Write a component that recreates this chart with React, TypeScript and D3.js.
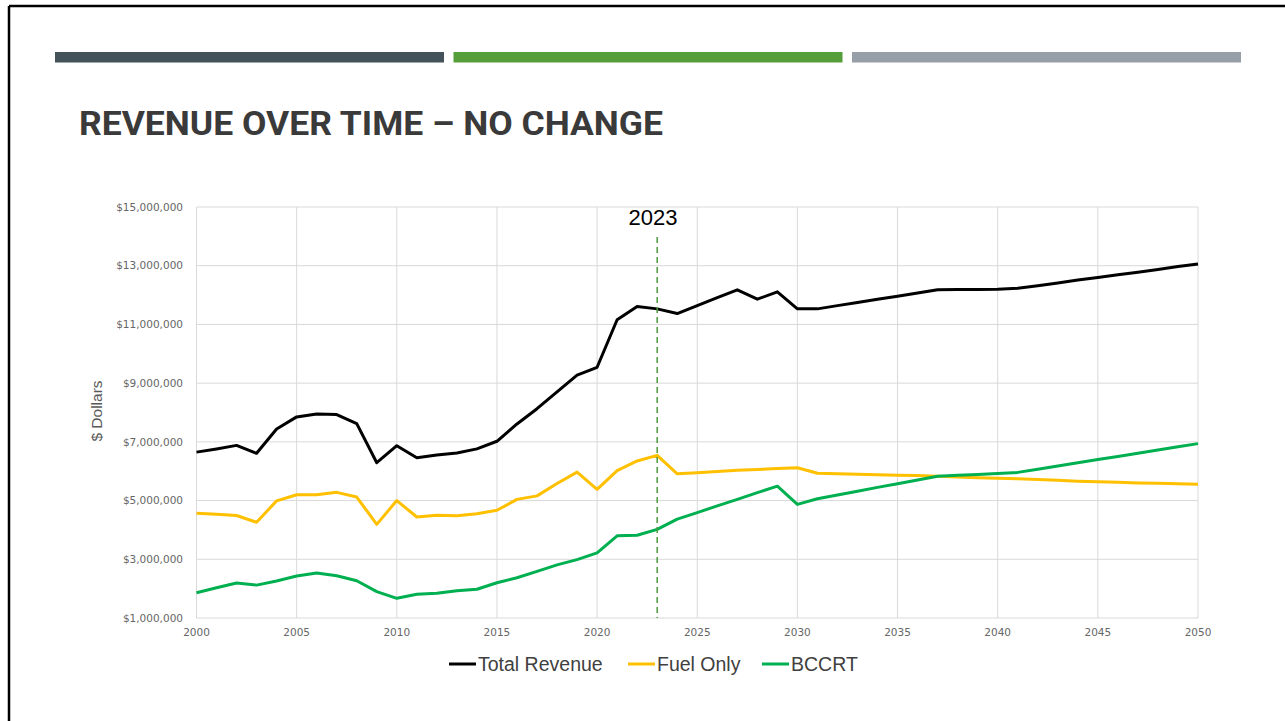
import React from "react";
import * as d3 from "d3";

const width = 1285;
const height = 721;
const margin = { left: 196.5, right: 87, top: 207, bottom: 103 };

// values in millions of dollars, one per year 2000-2050
const years = d3.range(2000, 2051);
const totalRevenue = [
  6.65, 6.76, 6.88, 6.61, 7.44, 7.85, 7.95, 7.93, 7.62, 6.29,
  6.87, 6.46, 6.55, 6.62, 6.76, 7.02, 7.61, 8.13, 8.7, 9.27,
  9.54, 11.16, 11.61, 11.53, 11.37, 11.64, 11.91, 12.18, 11.86, 12.11,
  11.53, 11.53, 11.64, 11.75, 11.86, 11.96, 12.07, 12.18, 12.19, 12.19,
  12.2, 12.23, 12.32, 12.41, 12.51, 12.6, 12.69, 12.78, 12.87, 12.97,
  13.06,
];
const fuelOnly = [
  4.57, 4.53, 4.49, 4.26, 4.99, 5.2, 5.2, 5.28, 5.12, 4.19,
  5.0, 4.44, 4.5, 4.48, 4.55, 4.67, 5.04, 5.16, 5.58, 5.97,
  5.38, 6.02, 6.35, 6.54, 5.91, 5.95, 5.99, 6.03, 6.06, 6.09,
  6.12, 5.93, 5.91, 5.9, 5.88, 5.86, 5.85, 5.83, 5.8, 5.78,
  5.76, 5.74, 5.72, 5.69, 5.66, 5.64, 5.62, 5.6, 5.59, 5.57,
  5.56,
];
const bccrt = [
  1.86, 2.03, 2.19, 2.12, 2.26, 2.43, 2.53, 2.44, 2.27, 1.9,
  1.67, 1.81, 1.84, 1.93, 1.98, 2.2, 2.37, 2.59, 2.81, 2.99,
  3.22, 3.8, 3.82, 4.02, 4.37, 4.59, 4.82, 5.04, 5.27, 5.49,
  4.87, 5.06, 5.19, 5.32, 5.45, 5.57, 5.7, 5.83, 5.86, 5.89,
  5.92, 5.96, 6.07, 6.18, 6.29, 6.4, 6.5, 6.61, 6.72, 6.83,
  6.94,
];

const seriesNames = ["Total Revenue", "Fuel Only", "BCCRT"];
const seriesColors = ["#000000", "#ffc000", "#00b050"];
const seriesValues = [totalRevenue, fuelOnly, bccrt];

const yTicks = [1, 3, 5, 7, 9, 11, 13, 15];
const xTicks = d3.range(2000, 2051, 5);
const markerYear = 2023;

const barColors = ["#44525a", "#559e3a", "#969ea8"];

const x = d3.scaleLinear().domain([2000, 2050]).range([margin.left, width - margin.right]);
const y = d3.scaleLinear().domain([1, 15]).range([height - margin.bottom, margin.top]);

const line = d3
  .line<number>()
  .x((d, i) => x(years[i]))
  .y((d) => y(d));

const money = d3.format("$,");

const sans = "'Liberation Sans', Arial, sans-serif";
const tickFont = "'DejaVu Sans', Verdana, sans-serif";

export default function App() {
  const barW = 389;
  const barGap = 9.5;
  const legendX = [449, 628, 762];

  return (
    <div style={{ position: "absolute", left: 0, top: 0 }}>
      <svg width={width} height={height} style={{ display: "block", background: "#fff" }}>
        {/* slide frame */}
        <line x1={9} y1={6} x2={width} y2={6} stroke="#000" strokeWidth={2.5} />
        <line x1={9} y1={6} x2={9} y2={height} stroke="#000" strokeWidth={2.5} />

        {barColors.map((c, i) => (
          <rect key={c} x={55 + i * (barW + barGap)} y={52} width={barW} height={10.5} fill={c} />
        ))}

        <text
          x={79}
          y={135}
          fontFamily="Roboto, 'Liberation Sans', sans-serif"
          fontWeight={700}
          fontSize={33}
          fill="#3a3a3a"
          textLength={584}
          lengthAdjust="spacingAndGlyphs"
        >
          REVENUE OVER TIME – NO CHANGE
        </text>

        {/* grid */}
        <g stroke="#d9d9d9" strokeWidth={1}>
          {yTicks.map((t) => (
            <line key={t} x1={x(2000)} x2={x(2050)} y1={y(t)} y2={y(t)} />
          ))}
          {xTicks.map((t) => (
            <line key={t} x1={x(t)} x2={x(t)} y1={y(1)} y2={y(15)} />
          ))}
        </g>

        <g fontFamily={tickFont} fontSize={10.5} fill="#666">
          {yTicks.map((t) => (
            <text key={t} x={183} y={y(t)} dy="0.35em" textAnchor="end">
              {money(t * 1e6)}
            </text>
          ))}
          {xTicks.map((t) => (
            <text key={t} x={x(t)} y={y(1) + 18} textAnchor="middle">
              {t}
            </text>
          ))}
        </g>

        <text
          transform={`translate(102, 411) rotate(-90)`}
          textAnchor="middle"
          fontFamily={sans}
          fontSize={15.5}
          fill="#595959"
        >
          $ Dollars
        </text>

        {seriesValues.map((vals, i) => (
          <path
            key={seriesNames[i]}
            d={line(vals) || ""}
            fill="none"
            stroke={seriesColors[i]}
            strokeWidth={3}
            strokeLinejoin="round"
          />
        ))}

        <line
          x1={x(markerYear)}
          x2={x(markerYear)}
          y1={237}
          y2={y(1)}
          stroke="#4e9a3e"
          strokeWidth={1.5}
          strokeDasharray="6 4"
        />
        <text x={653} y={225} textAnchor="middle" fontFamily={sans} fontSize={22} fill="#000">
          {markerYear}
        </text>

        <g fontFamily={sans} fontSize={19.5} fill="#404040">
          {seriesNames.map((n, i) => (
            <g key={n}>
              <line x1={legendX[i]} x2={legendX[i] + 27} y1={664} y2={664} stroke={seriesColors[i]} strokeWidth={3} />
              <text x={legendX[i] + 29} y={664} dy="0.35em">
                {n}
              </text>
            </g>
          ))}
        </g>
      </svg>
    </div>
  );
}
